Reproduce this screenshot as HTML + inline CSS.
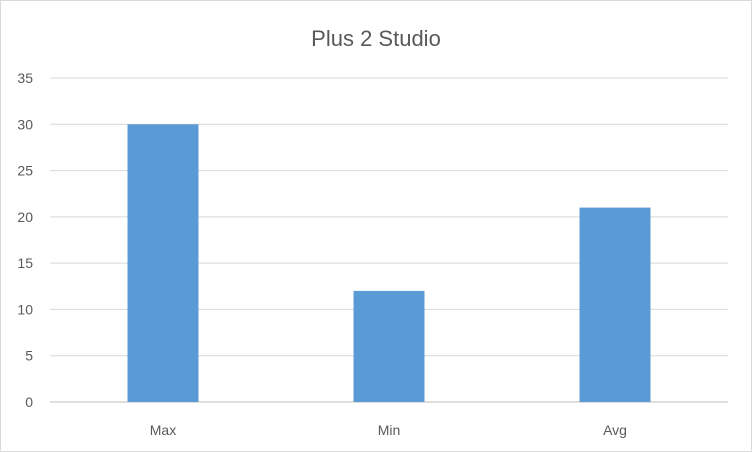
<!DOCTYPE html>
<html><head><meta charset="utf-8"><style>
body{margin:0;background:#fff}
svg{display:block;font-family:"Liberation Sans",sans-serif}
</style></head><body>
<svg width="752" height="452">
<rect x="0.5" y="0.5" width="751" height="451" fill="#fff" stroke="#d9d9d9"/>
<text x="376" y="46" text-anchor="middle" font-size="22" fill="#595959">Plus 2 Studio</text>
<g id="grid"></g><g id="bars"></g><g id="labels"></g>
</svg>
<script>
const categories=["Max","Min","Avg"];
const values=[30,12,21];
const ticks=[0,5,10,15,20,25,30,35];
const ns="http://www.w3.org/2000/svg";
const x0=50,x1=728,y0=402,y1=78,maxV=35;
const y=v=>y0-(v/maxV)*(y0-y1);
const band=(x1-x0)/categories.length;
const xc=i=>x0+band*(i+0.5);
const bw=71;
function mk(t,a,p){const e=document.createElementNS(ns,t);for(const k in a)e.setAttribute(k,a[k]);p.appendChild(e);return e;}
const g=document.getElementById('grid'),b=document.getElementById('bars'),l=document.getElementById('labels');
ticks.forEach(t=>{
 const ln=mk('line',{x1:x0,x2:x1,y1:y(t),y2:y(t),stroke:t===0?'#bfbfbf':'#d9d9d9','stroke-width':1},g);
 
 
 const tx=mk('text',{x:33,y:y(t)+5,'text-anchor':'end','font-size':14,fill:'#595959'},l);
 tx.textContent=t;
 
 
});
categories.forEach((c,i)=>{
 const r=mk('rect',{x:xc(i)-bw/2,y:y(values[i]),width:bw,height:y0-y(values[i]),fill:'#5b9bd5'},b);
 
 
 const tx=mk('text',{x:xc(i),y:435,'text-anchor':'middle','font-size':14,fill:'#595959'},l);
 tx.textContent=c;
 
 
});
</script>
</body></html>
